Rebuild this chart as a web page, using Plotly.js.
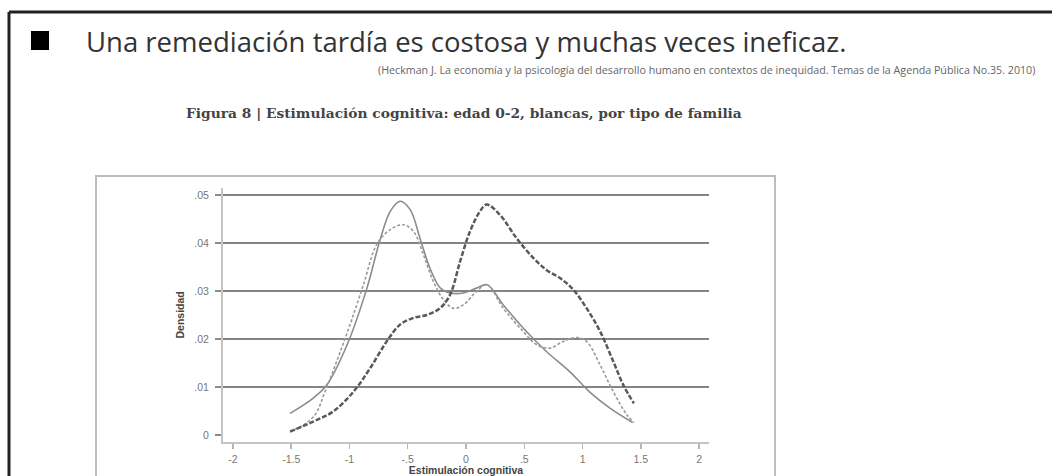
<!DOCTYPE html>
<html>
<head>
<meta charset="utf-8">
<script src="https://cdn.plot.ly/plotly-3.0.1.min.js"></script>
<style>
  html, body { margin: 0; padding: 0; background: #ffffff; }
  #chart { width: 1052px; height: 476px; }
</style>
</head>
<body>
<div id="chart"></div>
<script>
// Density curves of cognitive stimulation, by family type
const xSolid = [-1.51, -1.31, -1.195, -1.02, -0.85, -0.74, -0.65, -0.566, -0.48, -0.395, -0.31, -0.22, -0.137, -0.023, 0.09, 0.18, 0.32, 0.49, 0.69, 0.89, 1.06, 1.235, 1.43];
const ySolid = [0.0045, 0.0077, 0.0104, 0.0188, 0.0306, 0.0404, 0.0466, 0.0487, 0.047, 0.041, 0.0348, 0.0306, 0.0296, 0.0296, 0.0306, 0.0313, 0.0271, 0.0223, 0.0174, 0.0132, 0.009, 0.0056, 0.0026];

const xDash = [-1.51, -1.395, -1.295, -1.21, -1.11, -0.995, -0.88, -0.766, -0.65, -0.537, -0.45, -0.366, -0.28, -0.194, -0.109, -0.023, 0.09, 0.18, 0.32, 0.49, 0.606, 0.72, 0.835, 0.95, 1.035, 1.15, 1.264, 1.38, 1.44];
const yDash = [0.0007, 0.0021, 0.0042, 0.009, 0.0153, 0.023, 0.0313, 0.0397, 0.0428, 0.0438, 0.0424, 0.0376, 0.032, 0.0282, 0.0264, 0.0271, 0.0299, 0.0313, 0.0264, 0.0216, 0.0188, 0.0181, 0.0195, 0.0203, 0.0195, 0.0146, 0.009, 0.0042, 0.0026];

const xHeavy = [-1.51, -1.31, -1.14, -0.966, -0.823, -0.68, -0.566, -0.45, -0.337, -0.223, -0.137, -0.05, 0.034, 0.12, 0.177, 0.29, 0.434, 0.577, 0.69, 0.806, 0.92, 1.035, 1.15, 1.264, 1.35, 1.44];
const yHeavy = [0.0007, 0.0028, 0.0049, 0.009, 0.0139, 0.0195, 0.023, 0.0244, 0.025, 0.0264, 0.0292, 0.0362, 0.0424, 0.0466, 0.048, 0.0459, 0.041, 0.0369, 0.0344, 0.0327, 0.0303, 0.0264, 0.0216, 0.0153, 0.0104, 0.0066];

const xTickVals = [-2, -1.5, -1, -0.5, 0, 0.5, 1, 1.5, 2];
const xTickText = ['-2', '-1.5', '-1', '-.5', '0', '.5', '1', '1.5', '2'];
const yTickVals = [0, 0.01, 0.02, 0.03, 0.04, 0.05];
const yTickText = ['0', '.01', '.02', '.03', '.04', '.05'];

const W = 1052, H = 476;
const px = v => v / W;
const py = v => 1 - v / H;

const traces = [
  { x: xSolid, y: ySolid, mode: 'lines', name: 'solid',
    line: { color: '#8c8c8c', width: 1.6, shape: 'spline', smoothing: 1 } },
  { x: xDash, y: yDash, mode: 'lines', name: 'dash',
    line: { color: '#9a9a9a', width: 1.6, dash: '3px,2px', shape: 'spline', smoothing: 1 } },
  { x: xHeavy, y: yHeavy, mode: 'lines', name: 'heavy',
    line: { color: '#5a5a5a', width: 2.5, dash: '5px,2px', shape: 'spline', smoothing: 1 } }
];

const axisTitleFont = { size: 10.5, color: '#444', family: 'Liberation Sans, Arial, sans-serif', weight: 'bold' };

const layout = {
  width: W, height: H,
  margin: { l: 0, r: 0, t: 0, b: 0 },
  paper_bgcolor: '#ffffff',
  plot_bgcolor: '#ffffff',
  showlegend: false,
  font: { family: 'Liberation Sans, Arial, sans-serif', color: '#666' },
  xaxis: {
    domain: [px(223), px(709)],
    range: [-2.085, 2.085],
    tickmode: 'array', tickvals: xTickVals, ticktext: xTickText,
    ticks: 'outside', ticklen: 5, tickwidth: 1.5, tickcolor: '#b5b5b5',
    tickfont: { size: 10.5, color: '#777' },
    ticklabelstandoff: 1,
    showline: true, linecolor: '#c4c4c4', linewidth: 2,
    showgrid: false, zeroline: false,
    title: { text: 'Estimulación cognitiva', font: axisTitleFont, standoff: 12 }
  },
  yaxis: {
    domain: [py(442), py(187.8)],
    range: [-0.00146, 0.0515],
    tickmode: 'array', tickvals: yTickVals, ticktext: yTickText,
    ticks: 'outside', ticklen: 6, tickwidth: 2, tickcolor: '#8a8a8a',
    tickfont: { size: 10.5, color: '#777' },
    ticklabelstandoff: 4,
    showline: true, linecolor: '#c4c4c4', linewidth: 2,
    showgrid: true, gridcolor: '#858585', gridwidth: 2.5,
    zeroline: true, zerolinecolor: '#ffffff', zerolinewidth: 4,
    title: { text: 'Densidad', font: axisTitleFont, standoff: 8 }
  },
  shapes: [
    // outer slide frame
    { type: 'line', xref: 'paper', yref: 'paper', x0: px(9), x1: px(1060), y0: py(12), y1: py(12),
      line: { color: '#222', width: 3 } },
    { type: 'line', xref: 'paper', yref: 'paper', x0: px(9), x1: px(9), y0: py(12), y1: py(490),
      line: { color: '#222', width: 3 } },
    // bullet square
    { type: 'rect', xref: 'paper', yref: 'paper', x0: px(31), x1: px(49), y0: py(31), y1: py(50),
      fillcolor: '#000', line: { width: 0 } },
    // figure box
    { type: 'rect', xref: 'paper', yref: 'paper', x0: px(96), x1: px(775), y0: py(176), y1: py(492),
      fillcolor: 'rgba(0,0,0,0)', line: { color: '#bdbdbd', width: 2 } }
  ],
  annotations: [
    { xref: 'paper', yref: 'paper', x: px(84), y: py(41), xanchor: 'left', yanchor: 'middle',
      text: 'Una remediación tardía es costosa y muchas veces ineficaz.', showarrow: false,
      font: { family: 'Open Sans, Noto Sans, sans-serif', size: 27.5, color: '#333' } },
    { xref: 'paper', yref: 'paper', x: px(1037), y: py(70), xanchor: 'right', yanchor: 'middle',
      text: '(Heckman J. La economía y la psicología del desarrollo humano en contextos de inequidad. Temas de la Agenda Pública No.35. 2010)',
      showarrow: false,
      font: { family: 'Open Sans, Noto Sans, sans-serif', size: 10.7, color: '#666' } },
    { xref: 'paper', yref: 'paper', x: px(184), y: py(113), xanchor: 'left', yanchor: 'middle',
      text: '<b>Figura 8 | Estimulación cognitiva: edad 0-2, blancas, por tipo de familia</b>',
      showarrow: false,
      font: { family: 'DejaVu Serif, serif', size: 13.8, color: '#444' } }
  ]
};

Plotly.newPlot('chart', traces, layout, { staticPlot: true, displayModeBar: false });
</script>
</body>
</html>
